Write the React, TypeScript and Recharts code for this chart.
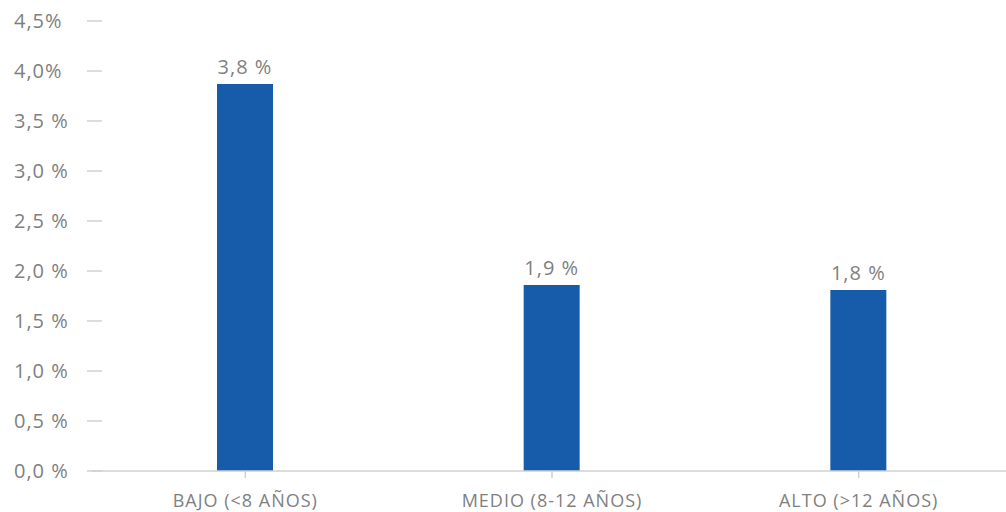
import React from "react";
import { BarChart, Bar, XAxis, YAxis, LabelList } from "recharts";

const categories = ["BAJO (<8 AÑOS)", "MEDIO (8-12 AÑOS)", "ALTO (>12 AÑOS)"];
const values = [3.87, 1.86, 1.81];
const valueLabels = ["3,8 %", "1,9 %", "1,8 %"];
const yTicks = [0, 0.5, 1, 1.5, 2, 2.5, 3, 3.5, 4, 4.5];
const yTickLabels = ["0,0 %", "0,5 %", "1,0 %", "1,5 %", "2,0 %", "2,5 %", "3,0 %", "3,5 %", "4,0%", "4,5%"];

const data = categories.map((c, i) => ({ name: c, value: values[i], label: valueLabels[i] }));

const FONT = "'Open Sans', sans-serif";
const TEXT = "#7f7f7f";
const AXIS = "#d0d0d0";

const YTick = (props: any) => {
  const { x, y, payload } = props;
  const idx = yTicks.indexOf(payload.value);
  return (
    <g>
      <line x1={x + 1} x2={x + 16} y1={y} y2={y} stroke={AXIS} strokeWidth={1.5} />
      <text x={x - 72} y={y} dy={7} textAnchor="start" fill={TEXT} fontSize={20} letterSpacing={1} fontFamily={FONT}>
        {idx >= 0 ? yTickLabels[idx] : payload.value}
      </text>
    </g>
  );
};

export default function App() {
  return (
    <div style={{ position: "absolute", left: 0, top: 0 }}>
      <BarChart width={1012} height={512} data={data} margin={{ top: 21, right: 0, bottom: 0, left: 0 }}>
        <XAxis
          dataKey="name"
          height={41}
          axisLine={{ stroke: AXIS, strokeWidth: 1.5 }}
          tickLine={{ stroke: AXIS, strokeWidth: 1.5 }}
          tickSize={7}
          tickMargin={16}
          tick={{ fill: TEXT, fontSize: 18, fontFamily: FONT, letterSpacing: 1 }}
          interval={0}
        />
        <YAxis
          width={92}
          domain={[0, 4.5]}
          ticks={yTicks}
          axisLine={false}
          tickLine={false}
          tickMargin={0}
          tick={<YTick />}
          interval={0}
        />
        <Bar dataKey="value" fill="#175CAB" barSize={56} isAnimationActive={false}>
          <LabelList dataKey="label" position="top" offset={10} fill={TEXT} fontSize={20} letterSpacing={1} fontFamily={FONT} />
        </Bar>
      </BarChart>
    </div>
  );
}
